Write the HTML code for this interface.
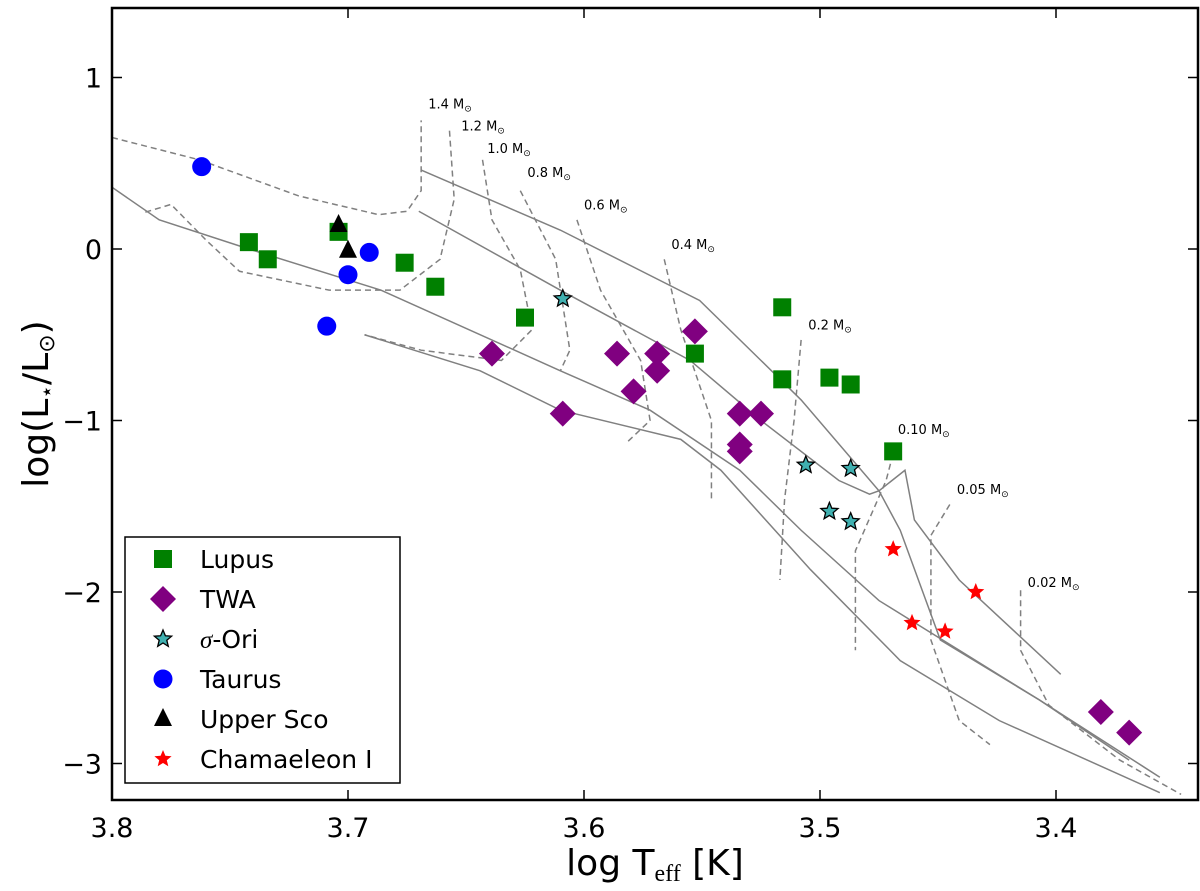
<!DOCTYPE html>
<html><head><meta charset="utf-8"><style>
body{margin:0;background:#fff}
svg{display:block;font-family:"DejaVu Sans","Liberation Sans",sans-serif}
</style></head><body>
<svg id="chart" width="1200" height="891" viewBox="0 0 1200 891" xmlns="http://www.w3.org/2000/svg"></svg>
<script>
const xTicks=[3.8,3.7,3.6,3.5,3.4];
const yTicks=[1,0,-1,-2,-3];
const lupusX=[3.742,3.734,3.704,3.676,3.663,3.625,3.553,3.516,3.516,3.496,3.487,3.469];
const lupusY=[0.04,-0.06,0.10,-0.08,-0.22,-0.40,-0.61,-0.34,-0.76,-0.75,-0.79,-1.18];
const twaX=[3.639,3.609,3.586,3.569,3.569,3.579,3.553,3.534,3.525,3.534,3.534,3.381,3.369];
const twaY=[-0.61,-0.96,-0.61,-0.61,-0.71,-0.83,-0.48,-0.96,-0.96,-1.14,-1.18,-2.70,-2.82];
const oriX=[3.609,3.506,3.487,3.496,3.487];
const oriY=[-0.29,-1.26,-1.28,-1.53,-1.59];
const tauX=[3.762,3.709,3.700,3.691];
const tauY=[0.48,-0.45,-0.15,-0.02];
const uscoX=[3.704,3.700];
const uscoY=[0.14,-0.01];
const chaX=[3.469,3.461,3.447,3.434];
const chaY=[-1.75,-2.18,-2.23,-2.00];
const isoA=[[3.669,0.46],[3.610,0.11],[3.551,-0.30],[3.525,-0.65],[3.508,-0.88],[3.475,-1.41],[3.464,-1.29],[3.460,-1.58],[3.441,-1.93],[3.398,-2.48]];
const isoB=[[3.670,0.22],[3.610,-0.24],[3.555,-0.65],[3.525,-1.00],[3.492,-1.35],[3.479,-1.43],[3.475,-1.41],[3.466,-1.64],[3.449,-2.28],[3.407,-2.63],[3.356,-3.08]];
const isoC=[[3.8,0.36],[3.780,0.17],[3.742,0.0],[3.686,-0.24],[3.610,-0.71],[3.572,-0.94],[3.534,-1.29],[3.508,-1.64],[3.475,-2.05],[3.441,-2.34],[3.407,-2.63],[3.369,-2.98]];
const isoD=[[3.693,-0.50],[3.644,-0.71],[3.610,-0.94],[3.559,-1.11],[3.542,-1.29],[3.504,-1.87],[3.466,-2.40],[3.424,-2.75],[3.356,-3.17]];
const trackLabels=["1.4","1.2","1.0","0.8","0.6","0.4","0.2","0.10","0.05","0.02"];
const trackLabelX=[3.666,3.652,3.641,3.624,3.600,3.563,3.505,3.467,3.442,3.412];
const trackLabelY=[0.82,0.69,0.56,0.42,0.23,0.00,-0.47,-1.08,-1.43,-1.97];
const tracks=[
[[3.8,0.65],[3.763,0.52],[3.721,0.31],[3.687,0.20],[3.675,0.22],[3.669,0.34],[3.669,0.75]],
[[3.657,0.69],[3.655,0.29],[3.661,-0.06],[3.678,-0.24],[3.708,-0.24],[3.746,-0.13],[3.760,0.05],[3.775,0.26],[3.787,0.21]],
[[3.643,0.52],[3.639,0.17],[3.627,-0.12],[3.622,-0.47],[3.635,-0.65],[3.669,-0.59],[3.693,-0.50]],
[[3.627,0.34],[3.612,-0.06],[3.606,-0.59],[3.610,-0.71]],
[[3.603,0.17],[3.593,-0.24],[3.576,-0.65],[3.572,-1.0],[3.582,-1.13]],
[[3.566,-0.06],[3.559,-0.47],[3.546,-1.0],[3.546,-1.46]],
[[3.508,-0.53],[3.511,-1.0],[3.515,-1.46],[3.517,-1.93]],
[[3.468,-1.14],[3.472,-1.35],[3.485,-1.76],[3.485,-2.34]],
[[3.445,-1.49],[3.453,-1.67],[3.453,-2.28],[3.441,-2.75],[3.428,-2.89]],
[[3.415,-1.99],[3.415,-2.34],[3.403,-2.66],[3.373,-2.98],[3.347,-3.18]]];

const L=112,R=1198,T=8,B=800;
const X=v=>L+(3.8-v)*2360;
const Y=v=>249-v*171.5;
const svg=document.getElementById('chart');
const NS='http://www.w3.org/2000/svg';
function mk(tag,attrs,parent){const e=document.createElementNS(NS,tag);for(const k in attrs)e.setAttribute(k,attrs[k]);(parent||svg).appendChild(e);return e;}

const clip=mk('clipPath',{id:'pc'});mk('rect',{x:L,y:T,width:R-L,height:B-T},clip);
const g=mk('g',{'clip-path':'url(#pc)'});



[isoA,isoB,isoC,isoD].forEach((pts,i)=>{
  const p=mk('polyline',{points:pts.map(q=>X(q[0])+','+Y(q[1])).join(' '),fill:'none',stroke:'#808080','stroke-width':1.5},g);
  
  
});
tracks.forEach((pts,i)=>{
  const p=mk('polyline',{points:pts.map(q=>X(q[0])+','+Y(q[1])).join(' '),fill:'none',stroke:'#808080','stroke-width':1.5,'stroke-dasharray':'6,4'},g);
  
  
});
trackLabels.forEach((t,i)=>{
  const e=mk('text',{x:X(trackLabelX[i]),y:Y(trackLabelY[i]),'font-size':13,fill:'#000'},g);
  e.innerHTML=t+' M<tspan font-size="9" dy="3">⊙</tspan>';
  
  
});

function starPts(cx,cy,ro,ri){let s=[];for(let k=0;k<10;k++){const a=-Math.PI/2+k*Math.PI/5;const r=k%2?ri:ro;s.push((cx+r*Math.cos(a)).toFixed(1)+','+(cy+r*Math.sin(a)).toFixed(1));}return s.join(' ');}
function marker(type,cx,cy,parent,name){
  let e;
  if(type==='sq')e=mk('rect',{x:cx-9,y:cy-9,width:18,height:18,fill:'#008000'},parent);
  else if(type==='dm')e=mk('polygon',{points:`${cx},${cy-13} ${cx+13},${cy} ${cx},${cy+13} ${cx-13},${cy}`,fill:'#800080'},parent);
  else if(type==='so')e=mk('polygon',{points:starPts(cx,cy,9,4),fill:'#40b0b0',stroke:'#000','stroke-width':1.3},parent);
  else if(type==='ci')e=mk('circle',{cx:cx,cy:cy,r:9.5,fill:'#0000ff'},parent);
  else if(type==='tr')e=mk('polygon',{points:`${cx},${cy-11} ${cx+9},${cy+7} ${cx-9},${cy+7}`,fill:'#000'},parent);
  else e=mk('polygon',{points:starPts(cx,cy,9,4),fill:'#ff0000'},parent);
  
  
}
const series=[['sq',lupusX,lupusY,'lupus'],['dm',twaX,twaY,'twa'],['so',oriX,oriY,'sigma-ori'],['ci',tauX,tauY,'taurus'],['tr',uscoX,uscoY,'upper-sco'],['st',chaX,chaY,'chamaeleon']];
series.forEach(s=>s[1].forEach((v,i)=>marker(s[0],X(v),Y(s[2][i]),g,s[3]+'-point')));

// axes frame
const fr=mk('rect',{x:L,y:T,width:R-L,height:B-T,fill:'none',stroke:'#000','stroke-width':2.5});


xTicks.forEach(v=>{
  const x=X(v);
  mk('line',{x1:x,y1:B,x2:x,y2:B-10,stroke:'#000','stroke-width':1.5});
  mk('line',{x1:x,y1:T,x2:x,y2:T+10,stroke:'#000','stroke-width':1.5});
  const t=mk('text',{x:x,y:B+37,'font-size':27,'text-anchor':'middle'});t.textContent=v.toFixed(1);
  
  
});
yTicks.forEach(v=>{
  const y=Y(v);
  mk('line',{x1:L,y1:y,x2:L+10,y2:y,stroke:'#000','stroke-width':1.5});
  mk('line',{x1:R,y1:y,x2:R-10,y2:y,stroke:'#000','stroke-width':1.5});
  const t=mk('text',{x:L-10,y:y+10,'font-size':27,'text-anchor':'end'});t.textContent=v<0?'\u2212'+(-v):String(v);
  
  
});
const xt=mk('text',{x:655,y:875,'font-size':36,'text-anchor':'middle'});
xt.innerHTML='log T<tspan font-family="Liberation Serif" font-size="24" dy="6">eff</tspan><tspan dy="-6"> [K]</tspan>';


const yt=mk('text',{x:48,y:404,'font-size':36,'text-anchor':'middle',transform:'rotate(-90 48 404)'});
yt.innerHTML='log(L<tspan font-size="22" dy="6">⋆</tspan><tspan dy="-6">/L</tspan><tspan font-size="22" dy="6">⊙</tspan><tspan dy="-6">)</tspan>';



// legend
const lg=mk('g',{});


mk('rect',{x:125,y:537,width:275,height:246,fill:'#fff',stroke:'#000','stroke-width':1.5},lg);
const names=['Lupus','TWA','\u03C3-Ori','Taurus','Upper Sco','Chamaeleon I'];
series.forEach((s,i)=>{
  const y=559+i*40;
  marker(s[0],163,y,lg,'legend-marker-'+s[3]);
  const t=mk('text',{x:200,y:y+9,'font-size':25},lg);t.textContent=names[i];
  if(i===2){t.innerHTML='<tspan font-family="Liberation Serif" font-style="italic">σ</tspan>-Ori';}
  
  
});
</script>
</body></html>
